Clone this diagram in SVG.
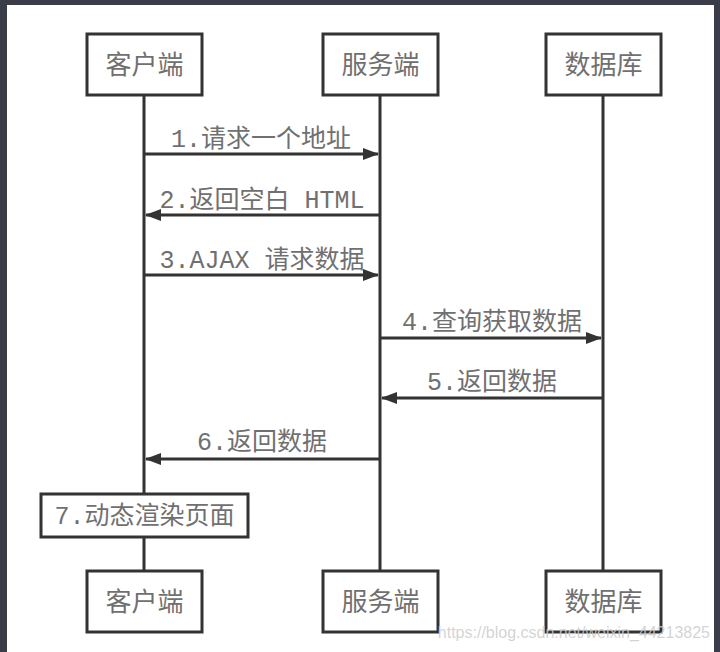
<svg xmlns="http://www.w3.org/2000/svg" width="720" height="652" viewBox="0 0 720 652">
<defs>
<style>
.box{fill:#fff;stroke:#333;stroke-width:3}
.life{stroke:#333;stroke-width:3;fill:none}
.msg{stroke:#333;stroke-width:3;fill:none}
.t{font-family:"Liberation Mono","Noto Sans CJK SC",monospace;fill:#707070;text-anchor:middle}
.nt{font-size:26px}
.mt{font-size:25px}
</style>
<marker id="ah" viewBox="0 0 16 12" refX="15" refY="6" markerWidth="16" markerHeight="12" markerUnits="userSpaceOnUse" orient="auto">
<path d="M0,0 L16,6 L0,12 Z" fill="#333"/>
</marker>
</defs>
<rect x="0" y="0" width="720" height="652" fill="#3a3d47"/>
<rect x="7" y="5" width="707" height="647" fill="#fff"/>
<g id="lifelines">
<line class="life" x1="144" y1="96" x2="144" y2="570"/>
<line class="life" x1="380" y1="96" x2="380" y2="570"/>
<line class="life" x1="603" y1="96" x2="603" y2="570"/>
</g>
<g id="connectors">
<line class="msg" x1="144" y1="154" x2="378" y2="154" marker-end="url(#ah)"/>
<text class="t mt" x="261" y="147">1.请求一个地址</text>
<line class="msg" x1="380" y1="215" x2="146" y2="215" marker-end="url(#ah)"/>
<text class="t mt" x="262" y="208">2.返回空白 HTML</text>
<line class="msg" x1="144" y1="275" x2="378" y2="275" marker-end="url(#ah)"/>
<text class="t mt" x="262" y="268">3.AJAX 请求数据</text>
<line class="msg" x1="380" y1="338" x2="601" y2="338" marker-end="url(#ah)"/>
<text class="t mt" x="492" y="330">4.查询获取数据</text>
<line class="msg" x1="603" y1="398" x2="382" y2="398" marker-end="url(#ah)"/>
<text class="t mt" x="492" y="390">5.返回数据</text>
<line class="msg" x1="380" y1="459" x2="146" y2="459" marker-end="url(#ah)"/>
<text class="t mt" x="262" y="450">6.返回数据</text>
</g>
<g id="client-top"><rect class="box" x="87" y="34" width="115" height="61"/><text class="t nt" x="144.5" y="74">客户端</text></g>
<g id="server-top"><rect class="box" x="323" y="34" width="115" height="61"/><text class="t nt" x="380.5" y="74">服务端</text></g>
<g id="db-top"><rect class="box" x="546" y="34" width="115" height="61"/><text class="t nt" x="603.5" y="74">数据库</text></g>
<g id="render"><rect class="box" x="41" y="494" width="207" height="43"/><text class="t mt" x="144.5" y="524">7.动态渲染页面</text></g>
<g id="client-bottom"><rect class="box" x="87" y="571" width="115" height="61"/><text class="t nt" x="144.5" y="611">客户端</text></g>
<g id="server-bottom"><rect class="box" x="323" y="571" width="115" height="61"/><text class="t nt" x="380.5" y="611">服务端</text></g>
<g id="db-bottom"><rect class="box" x="546" y="571" width="115" height="61"/><text class="t nt" x="603.5" y="611">数据库</text></g>
<text x="710" y="638" font-family="'Liberation Sans',Arial,sans-serif" font-size="16" fill="#ccc" fill-opacity="0.85" text-anchor="end">https://blog.csdn.net/weixin_44213825</text>
</svg>
